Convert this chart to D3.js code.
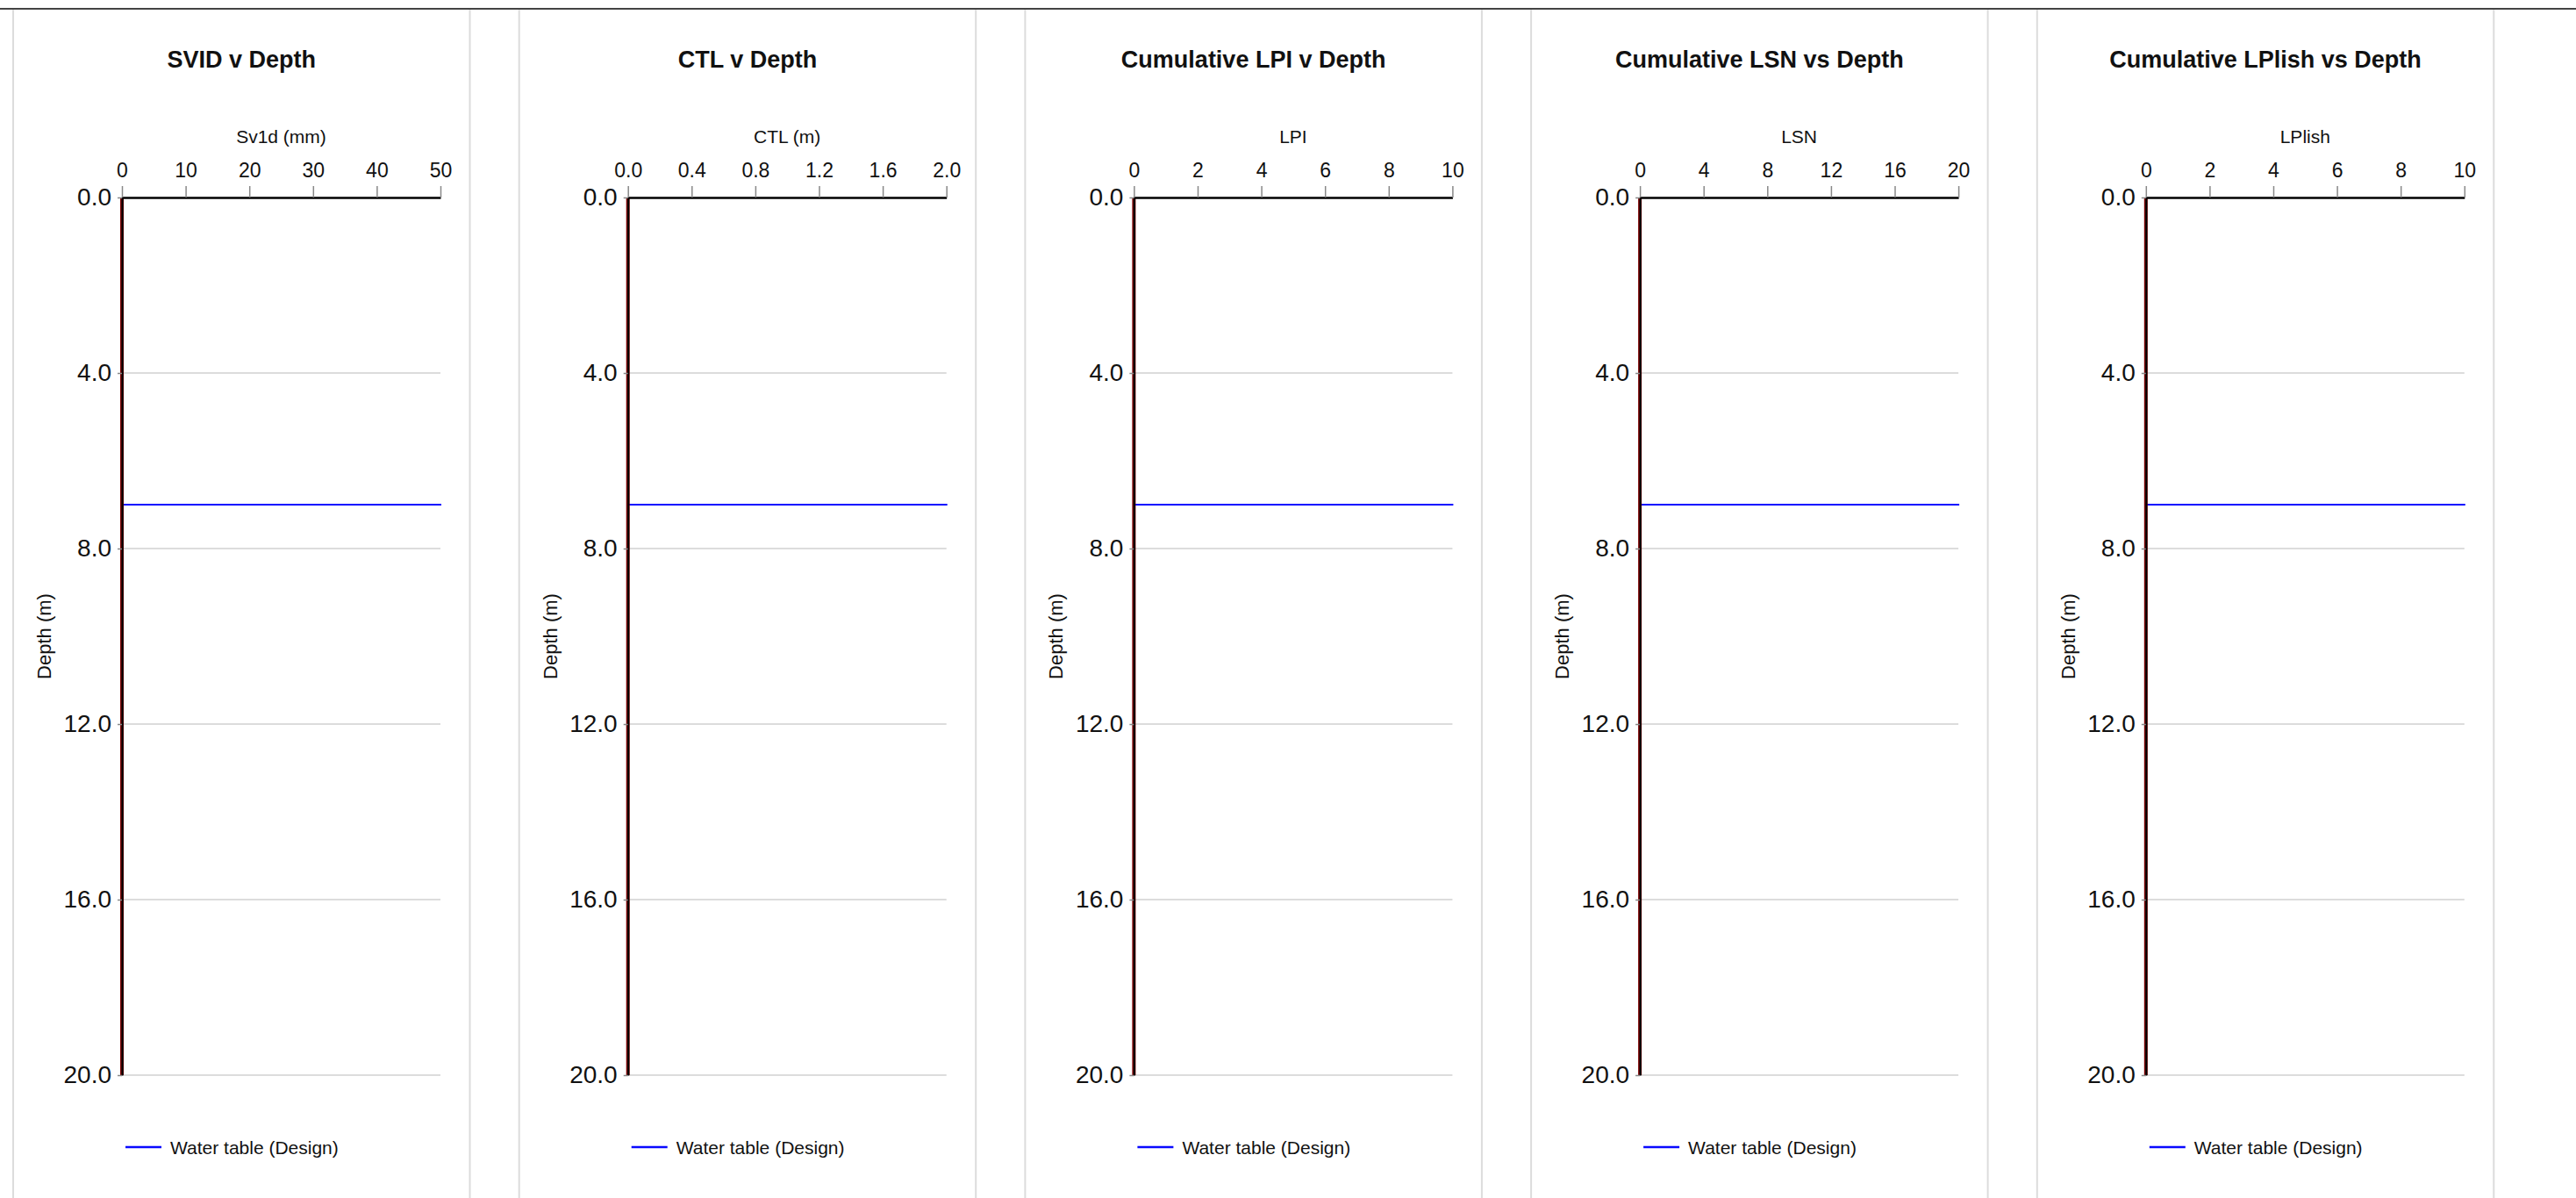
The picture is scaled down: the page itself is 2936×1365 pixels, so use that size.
<!DOCTYPE html>
<html>
<head>
<meta charset="utf-8">
<script src="https://cdn.jsdelivr.net/npm/d3@7"></script>
<style>
    body { margin: 0; background: #fff; }
    svg { display: block; font-family: "Liberation Sans", Arial, sans-serif; }
</style>
</head>
<body>
<main></main>
<script>
// チャートのデータ
const titles = ["SVID v Depth", "CTL v Depth", "Cumulative LPI v Depth", "Cumulative LSN vs Depth", "Cumulative LPlish vs Depth"];
const xLabels = ["Sv1d (mm)", "CTL (m)", "LPI", "LSN", "LPlish"];
const xMaxes = [50, 2, 10, 20, 10];
const xTickValues = [
    [0, 10, 20, 30, 40, 50],
    [0, 0.4, 0.8, 1.2, 1.6, 2.0],
    [0, 2, 4, 6, 8, 10],
    [0, 4, 8, 12, 16, 20],
    [0, 2, 4, 6, 8, 10]
];
const xTickFormats = ["d", ".1f", "d", "d", "d"];
const depthTicks = [0, 4, 8, 12, 16, 20];
const waterTableDepth = 7.0;
const profileDepths = [0, 20];
const profileValues = [[0, 0], [0, 0], [0, 0], [0, 0], [0, 0]];
const legendLabel = "Water table (Design)";

// SVG要素の設定
const width = 2936, height = 1365;
const svg = d3.select("main").append("svg")
    .attr("width", width)
    .attr("height", height);

// ページ上部の線
svg.append("line")
    .attr("x1", 0).attr("x2", width)
    .attr("y1", 10).attr("y2", 10)
    .attr("stroke", "#444")
    .attr("stroke-width", 2);

const panelStep = 576.7, panelWidth = 520.5;
const plotLeft = 124, plotWidth = 363, plotTop = 225, plotBottom = 1225;

titles.forEach((title, i) => {
    const g = svg.append("g")
        .attr("transform", `translate(${15 + panelStep * i},0)`);

    // パネルの枠線
    [0, panelWidth].forEach(bx => {
        g.append("line")
            .attr("x1", bx).attr("x2", bx)
            .attr("y1", 11).attr("y2", height)
            .attr("stroke", "#dcdcdc")
            .attr("stroke-width", 2);
    });

    // タイトル
    g.append("text")
        .attr("x", panelWidth / 2)
        .attr("y", 77)
        .attr("text-anchor", "middle")
        .attr("font-size", 27)
        .attr("font-weight", "bold")
        .attr("fill", "#111")
        .text(title);

    const x = d3.scaleLinear().domain([0, xMaxes[i]]).range([plotLeft, plotLeft + plotWidth]);
    const y = d3.scaleLinear().domain([0, 20]).range([plotTop, plotBottom]);

    // グリッド線
    g.append("g").selectAll("line")
        .data(depthTicks.filter(d => d > 0))
        .enter().append("line")
        .attr("x1", x(0)).attr("x2", x(xMaxes[i]))
        .attr("y1", d => y(d)).attr("y2", d => y(d))
        .attr("stroke", "#dcdcdc")
        .attr("stroke-width", 2);

    // 水位線
    g.append("line")
        .attr("x1", x(0)).attr("x2", x(xMaxes[i]) + 1)
        .attr("y1", y(waterTableDepth)).attr("y2", y(waterTableDepth))
        .attr("stroke", "#0a0aff")
        .attr("stroke-width", 2.2);

    // プロファイル線
    const line = d3.line()
        .x((d, k) => x(profileValues[i][k]))
        .y(d => y(d));
    g.append("path")
        .datum(profileDepths)
        .attr("d", line)
        .attr("fill", "none")
        .attr("stroke", "#7a0000")
        .attr("stroke-width", 4);

    // X軸（上）
    const xAxis = g.append("g")
        .attr("transform", `translate(0,${plotTop})`)
        .call(d3.axisTop(x)
            .tickValues(xTickValues[i])
            .tickFormat(d3.format(xTickFormats[i]))
            .tickSize(13)
            .tickSizeOuter(0)
            .tickPadding(10));
    xAxis.select(".domain").attr("stroke", "#000").attr("stroke-width", 2.5);
    xAxis.selectAll(".tick line").attr("stroke", "#888").attr("stroke-width", 1.5);
    xAxis.selectAll(".tick text")
        .attr("font-size", 23)
        .attr("font-family", "Liberation Sans, Arial, sans-serif")
        .attr("fill", "#111");

    // Y軸（左）
    const yAxis = g.append("g")
        .attr("transform", `translate(${plotLeft},0)`)
        .call(d3.axisLeft(y)
            .tickValues(depthTicks)
            .tickFormat(d3.format(".1f"))
            .tickSize(5)
            .tickSizeOuter(0)
            .tickPadding(7));
    yAxis.select(".domain").attr("stroke", "#000").attr("stroke-width", 2);
    yAxis.selectAll(".tick line").attr("stroke", "#888").attr("stroke-width", 1.5);
    yAxis.selectAll(".tick text")
        .attr("font-size", 28)
        .attr("font-family", "Liberation Sans, Arial, sans-serif")
        .attr("fill", "#111");

    // 軸ラベル
    g.append("text")
        .attr("x", plotLeft + plotWidth / 2)
        .attr("y", 163)
        .attr("text-anchor", "middle")
        .attr("font-size", 21)
        .attr("fill", "#111")
        .text(xLabels[i]);

    g.append("text")
        .attr("transform", `translate(43,${(plotTop + plotBottom) / 2}) rotate(-90)`)
        .attr("text-anchor", "middle")
        .attr("font-size", 22)
        .attr("fill", "#111")
        .text("Depth (m)");

    // 凡例
    g.append("line")
        .attr("x1", plotLeft + 4).attr("x2", plotLeft + 45)
        .attr("y1", 1307).attr("y2", 1307)
        .attr("stroke", "#0a0aff")
        .attr("stroke-width", 2.5);
    g.append("text")
        .attr("x", plotLeft + 55)
        .attr("y", 1315)
        .attr("font-size", 21)
        .attr("fill", "#111")
        .text(legendLabel);
});
</script>
</body>
</html>
